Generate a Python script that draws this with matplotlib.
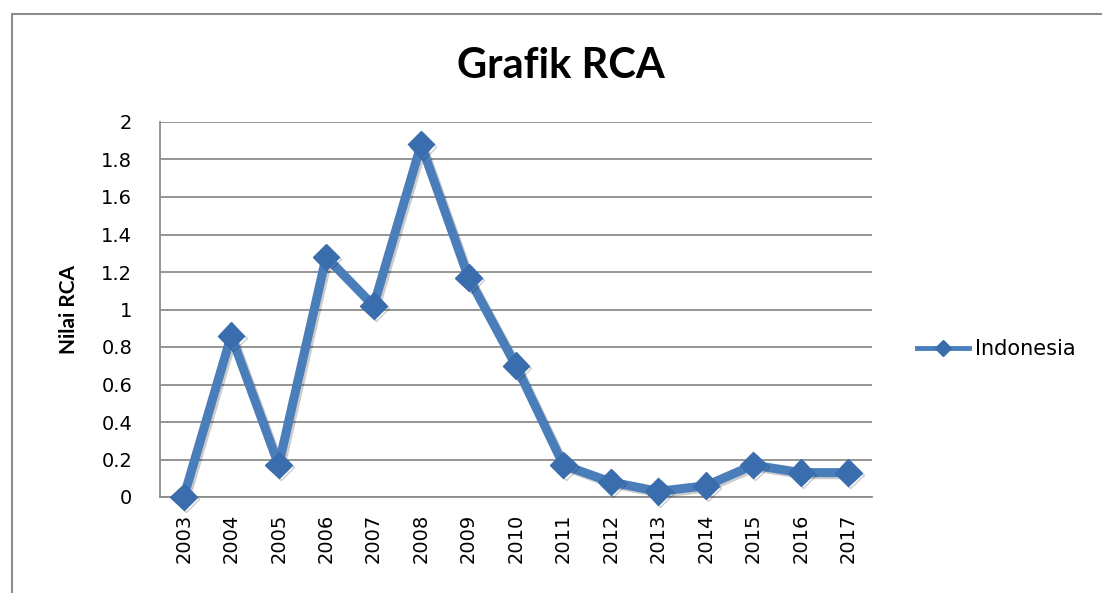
import matplotlib.pyplot as plt
import matplotlib.patheffects as pe
from matplotlib.patches import Rectangle

# Data
tahun = ['2003', '2004', '2005', '2006', '2007', '2008', '2009', '2010',
         '2011', '2012', '2013', '2014', '2015', '2016', '2017']
nilai_rca = [0.0, 0.86, 0.17, 1.28, 1.02, 1.88, 1.17, 0.70,
             0.17, 0.08, 0.03, 0.06, 0.17, 0.13, 0.13]
yticks = [0, 0.2, 0.4, 0.6, 0.8, 1, 1.2, 1.4, 1.6, 1.8, 2]
ytick_labels = ['0', '0.2', '0.4', '0.6', '0.8', '1', '1.2', '1.4', '1.6', '1.8', '2']

BIRU = '#4A7EBB'
BIRU_TUA = '#3A6DAE'
ABU = '#8C8C8C'

fig = plt.figure(figsize=(11.02, 5.93), dpi=100)

# bingkai luar chart
W, H = 1102, 593
fig.patches.append(Rectangle((12 / W, -0.05), 1.1, (H - 14) / H + 0.05,
                             transform=fig.transFigure, fill=False,
                             edgecolor=ABU, linewidth=1.5))

ax = fig.add_axes([160 / W, (H - 497) / H, (872 - 160) / W, (497 - 122) / H])

x = list(range(len(tahun)))
bayangan = [pe.SimpleLineShadow(offset=(1.5, -1.5), alpha=0.2), pe.Normal()]
ax.plot(x, nilai_rca, color=BIRU, linewidth=6.5, marker='D', markersize=13.5,
        markerfacecolor=BIRU_TUA, markeredgecolor=BIRU_TUA, label='Indonesia',
        clip_on=False, zorder=3, path_effects=bayangan)

ax.set_xlim(-0.5, len(tahun) - 0.5)
ax.set_ylim(0, 2)
ax.set_xticks(x)
ax.set_xticklabels(tahun, rotation=90, fontsize=14, family='DejaVu Sans')
ax.set_yticks(yticks)
ax.set_yticklabels(ytick_labels, fontsize=14, family='DejaVu Sans')
ax.tick_params(length=0)
ax.tick_params(axis='x', pad=12)
ax.tick_params(axis='y', pad=20)

ax.grid(axis='y', color=ABU, linewidth=1.3)
ax.set_axisbelow(True)
for s in ['top', 'right']:
    ax.spines[s].set_visible(False)
for s in ['left', 'bottom']:
    ax.spines[s].set_color(ABU)
    ax.spines[s].set_linewidth(1.3)

ax.set_ylabel('Nilai RCA', fontsize=15, fontweight='bold', family='Lato', labelpad=16)

fig.text(0.509, 0.889, 'Grafik RCA', ha='center', va='center',
         fontsize=30, fontweight='bold', family='Lato')

leg = ax.legend(loc='center left', bbox_to_anchor=(1.037, 0.395), frameon=False,
                handlelength=2.5, handletextpad=0.3, markerscale=0.6,
                prop={'family': 'DejaVu Sans', 'size': 15})
for line in leg.get_lines():
    line.set_linewidth(3.5)
    line.set_path_effects([])

fig.savefig('out.png', dpi=100)
